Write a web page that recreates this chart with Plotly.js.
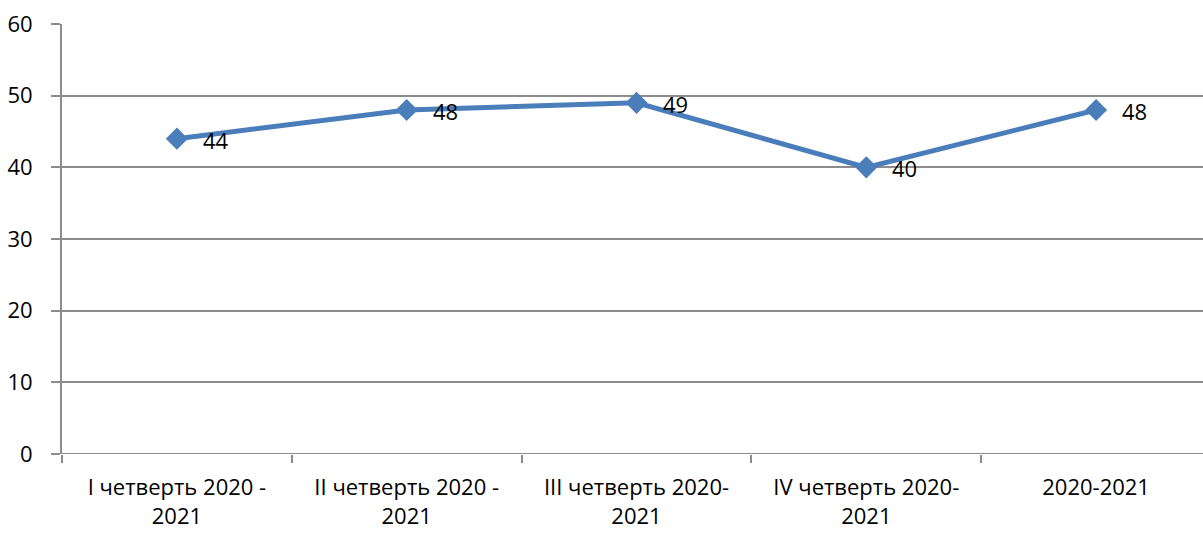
<!DOCTYPE html>
<html><head><meta charset="utf-8">
<script src="https://cdn.plot.ly/plotly-3.0.1.min.js"></script>
<style>html,body{margin:0;padding:0;overflow:hidden;background:#fff}#chart{width:1212px;height:533px}</style>
</head><body><div id="chart"></div>
<script>
const categories = ["I четверть 2020 -<br>2021", "II четверть 2020 -<br>2021", "III четверть 2020-<br>2021", "IV четверть 2020-<br>2021", "2020-2021"];
const values = [44, 48, 49, 40, 48];
const yTicks = [0, 10, 20, 30, 40, 50, 60];

const font = "Open Sans, Liberation Sans, sans-serif";
const grey = "#8c8c8c";
const trace = {
  x: categories, y: values, type: "scatter", mode: "lines+markers",
  line: {color: "#4a7ebb", width: 5},
  marker: {symbol: "diamond", size: 17, color: "#4a7ebb"},
  hoverinfo: "skip", cliponaxis: false
};
const annotations = categories.map((c, i) => ({
  x: c, y: values[i], text: String(values[i]), showarrow: false,
  xanchor: "left", yanchor: "middle", xshift: 24, yshift: -1,
  font: {family: font, size: 22, color: "#000"}
}));
const layout = {
  width: 1212, height: 533,
  margin: {l: 62, r: 1, t: 24, b: 79},
  paper_bgcolor: "#fff", plot_bgcolor: "#fff",
  showlegend: false,
  font: {family: font, size: 22, color: "#000"},
  xaxis: {
    type: "category", range: [-0.5, 4.5], showgrid: false,
    showline: false, zeroline: false,
    ticks: "outside", ticklen: 8, tickcolor: grey, tickwidth: 2,
    tickson: "boundaries", ticklabelstandoff: 18,
    tickfont: {family: font, size: 22, color: "#000"}
  },
  yaxis: {
    range: [0, 60], tickvals: yTicks, ticktext: yTicks.map(String),
    showgrid: true, gridcolor: grey, gridwidth: 2,
    showline: true, linecolor: grey, linewidth: 2,
    zeroline: false,
    ticks: "outside", ticklen: 9, tickcolor: grey, tickwidth: 2,
    ticklabelstandoff: 14,
    tickfont: {family: font, size: 22, color: "#000"}
  },
  shapes: [{type: "line", xref: "paper", yref: "y", x0: 0, x1: 1, y0: 0, y1: 0, line: {color: grey, width: 2}}],
  annotations: annotations
};
Plotly.newPlot("chart", [trace], layout, {displayModeBar: false, staticPlot: true});
</script></body></html>
